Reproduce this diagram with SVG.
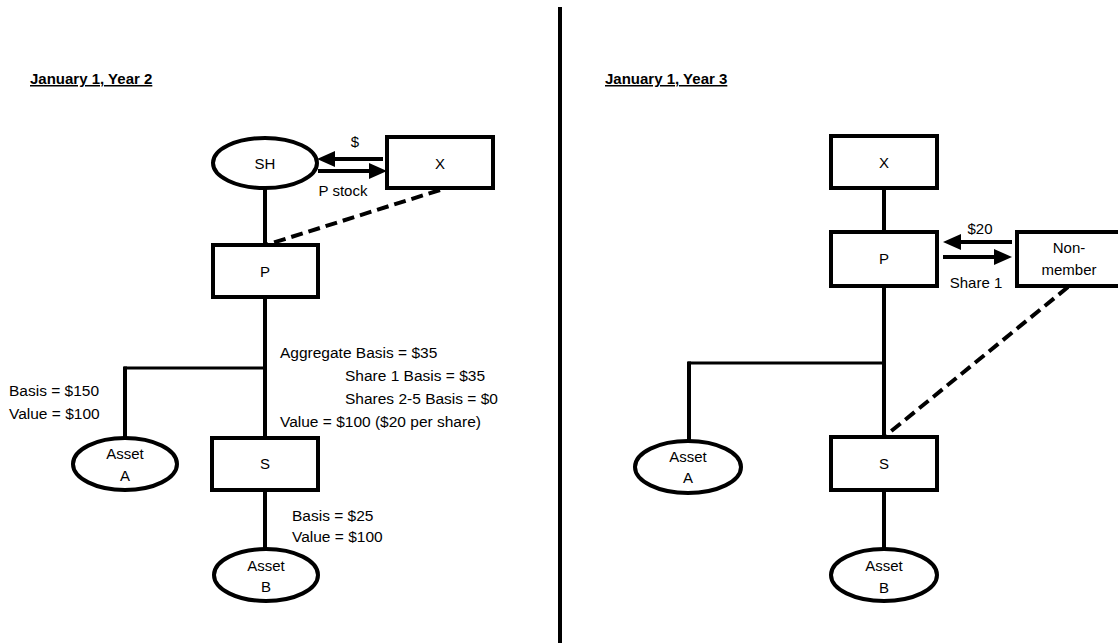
<svg xmlns="http://www.w3.org/2000/svg" width="1118" height="643" viewBox="0 0 1118 643">
<style>
  .box { fill: #fff; stroke: #000; stroke-width: 4; }
  .ln { stroke: #000; stroke-width: 4; fill: none; }
  .thin { stroke: #000; stroke-width: 3; fill: none; }
  .dash { stroke: #000; stroke-width: 4; fill: none; stroke-dasharray: 12 6; }
  .arr { stroke: #000; stroke-width: 4; fill: none; marker-end: url(#ah); }
  text { font-family: "Liberation Sans", Arial, sans-serif; font-size: 15px; fill: #000; }
  .c { text-anchor: middle; }
  .t { font-weight: bold; text-decoration: underline; font-size: 15px; }
  .n { font-size: 15.5px; }
</style>
<defs>
  <marker id="ah" viewBox="0 0 18 16" refX="0" refY="8" markerWidth="18" markerHeight="16" markerUnits="userSpaceOnUse" orient="auto">
    <path d="M0,0 L18,8 L0,16 z" fill="#000"/>
  </marker>
</defs>
<rect width="1118" height="643" fill="#fff"/>
<line x1="560" y1="7" x2="560" y2="643" stroke="#000" stroke-width="4"/>
<text class="t" x="30" y="84">January 1, Year 2</text>
<text class="t" x="605" y="84">January 1, Year 3</text>
<g id="connectors">
  <line class="ln" x1="265" y1="188" x2="265" y2="245"/>
  <line class="ln" x1="265" y1="297" x2="265" y2="438"/>
  <line class="thin" x1="124" y1="368" x2="265" y2="368"/>
  <line class="ln" x1="125" y1="366.5" x2="125" y2="438"/>
  <line class="ln" x1="265" y1="490" x2="265" y2="549"/>
  <line class="dash" x1="440" y1="190" x2="266" y2="245"/>
  <line class="arr" x1="383" y1="159" x2="335" y2="159"/>
  <line class="arr" x1="318" y1="171" x2="369" y2="171"/>
  <line class="ln" x1="884" y1="188" x2="884" y2="232"/>
  <line class="ln" x1="884" y1="286" x2="884" y2="437"/>
  <line class="thin" x1="688" y1="363" x2="884" y2="363"/>
  <line class="ln" x1="689" y1="361.5" x2="689" y2="441"/>
  <line class="ln" x1="884" y1="490" x2="884" y2="549"/>
  <line class="dash" x1="1068" y1="287" x2="884" y2="437"/>
  <line class="arr" x1="1012" y1="242" x2="961" y2="242"/>
  <line class="arr" x1="943" y1="257" x2="994" y2="257"/>
</g>
<g id="sh-left"><ellipse class="box" cx="265" cy="163" rx="52" ry="25"/><text class="c" x="265" y="169">SH</text></g>
<g id="x-left"><rect class="box" x="387" y="137" width="106" height="51"/><text class="c" x="440" y="169">X</text></g>
<g id="p-left"><rect class="box" x="213" y="245" width="105" height="52"/><text class="c" x="265" y="277">P</text></g>
<g id="s-left"><rect class="box" x="212" y="438" width="106" height="52"/><text class="c" x="265" y="469">S</text></g>
<g id="asseta-left"><ellipse class="box" cx="125" cy="464" rx="52" ry="26"/><text class="c" x="125" y="459">Asset</text><text class="c" x="125" y="481">A</text></g>
<g id="assetb-left"><ellipse class="box" cx="266" cy="575" rx="52" ry="26"/><text class="c" x="266" y="571">Asset</text><text class="c" x="266" y="592">B</text></g>
<g id="labels-left">
  <text class="c" x="355" y="147">$</text>
  <text class="c" x="343" y="196">P stock</text>
  <text class="n" x="280" y="358">Aggregate Basis = $35</text>
  <text class="n" x="345" y="381">Share 1 Basis = $35</text>
  <text class="n" x="345" y="404">Shares 2-5 Basis = $0</text>
  <text class="n" x="280" y="427">Value = $100 ($20 per share)</text>
  <text class="n" x="9" y="396">Basis = $150</text>
  <text class="n" x="9" y="419">Value = $100</text>
  <text class="n" x="292" y="521">Basis = $25</text>
  <text class="n" x="292" y="542">Value = $100</text>
</g>
<g id="x-right"><rect class="box" x="831" y="136" width="106" height="52"/><text class="c" x="884" y="168">X</text></g>
<g id="p-right"><rect class="box" x="831" y="232" width="106" height="54"/><text class="c" x="884" y="264">P</text></g>
<g id="nonmember"><rect class="box" x="1017" y="232" width="103" height="54"/><text class="c" x="1069" y="253">Non-</text><text class="c" x="1069" y="275">member</text></g>
<g id="s-right"><rect class="box" x="831" y="437" width="106" height="53"/><text class="c" x="884" y="469">S</text></g>
<g id="asseta-right"><ellipse class="box" cx="688" cy="467" rx="53" ry="26"/><text class="c" x="688" y="462">Asset</text><text class="c" x="688" y="483">A</text></g>
<g id="assetb-right"><ellipse class="box" cx="884" cy="575" rx="53" ry="26"/><text class="c" x="884" y="571">Asset</text><text class="c" x="884" y="593">B</text></g>
<g id="labels-right">
  <text class="c" x="980" y="234">$20</text>
  <text class="c" x="976" y="288">Share 1</text>
</g>
</svg>
